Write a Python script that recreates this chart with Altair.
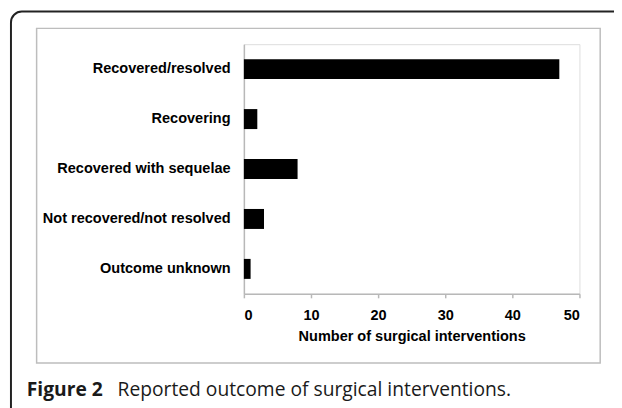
import altair as alt
import pandas as pd

categories = [
    "Recovered/resolved",
    "Recovering",
    "Recovered with sequelae",
    "Not recovered/not resolved",
    "Outcome unknown",
]
counts = [47, 2, 8, 3, 1]
x_ticks = [0, 10, 20, 30, 40, 50]
x_title = "Number of surgical interventions"
caption_bold = "Figure 2"
caption_rest = "Reported outcome of surgical interventions."

df = pd.DataFrame({"outcome": categories, "count": counts})

W, H = 340, 253
PAD_L, PAD_T = 239, 34
AX_FONT = "Liberation Sans, Arial, sans-serif"
AX_SIZE = 14.7
CAP_FONT = "Open Sans, Noto Sans, sans-serif"
CAP_SIZE = 19.5

bars = alt.Chart(df).mark_bar(color="black").encode(
    x=alt.X(
        "count:Q",
        scale=alt.Scale(domain=[0, 50], nice=False),
        axis=alt.Axis(
            values=x_ticks,
            title=x_title,
            grid=False,
            domainColor="#b8b8b8",
            domainWidth=1.5,
            tickColor="#b8b8b8",
            tickWidth=1.5,
            tickSize=4,
            labelFont=AX_FONT,
            labelFontSize=AX_SIZE,
            labelFontWeight="bold",
            labelColor="black",
            labelPadding=10,
            titleFont=AX_FONT,
            titleFontSize=AX_SIZE,
            titleFontWeight="bold",
            titleColor="black",
            titlePadding=7,
        ),
    ),
    y=alt.Y(
        "outcome:N",
        sort=categories,
        scale=alt.Scale(paddingInner=0.6, paddingOuter=0.3),
        axis=alt.Axis(
            title=None,
            ticks=False,
            domainColor="#b8b8b8",
            domainWidth=1.5,
            labelFont=AX_FONT,
            labelFontSize=AX_SIZE,
            labelFontWeight="bold",
            labelColor="black",
            labelPadding=14,
            labelLimit=0,
        ),
    ),
)

frame_df = pd.DataFrame({"k": [0]})

outer = alt.Chart(frame_df).mark_rect(
    fill=None, stroke="#222222", strokeWidth=2, cornerRadius=11
).encode(
    x=alt.value(-236), x2=alt.value(420), y=alt.value(-33), y2=alt.value(420)
)

inner = alt.Chart(frame_df).mark_rect(
    fill=None, stroke="#bdbdbd", strokeWidth=1.5
).encode(
    x=alt.value(-210), x2=alt.value(361), y=alt.value(-16), y2=alt.value(323)
)

cap1 = alt.Chart(frame_df).mark_text(
    text=caption_bold, font=CAP_FONT, fontSize=CAP_SIZE, fontWeight="bold",
    align="left", baseline="alphabetic", color="#1a1a1a"
).encode(x=alt.value(-220), y=alt.value(356))

cap2 = alt.Chart(frame_df).mark_text(
    text=caption_rest, font=CAP_FONT, fontSize=CAP_SIZE, fontWeight="normal",
    align="left", baseline="alphabetic", color="#1a1a1a"
).encode(x=alt.value(-128), y=alt.value(356))

chart = alt.layer(inner, outer, bars, cap1, cap2).properties(
    width=W,
    height=H,
    autosize=alt.AutoSizeParams(type="none"),
    padding={"left": PAD_L, "top": PAD_T, "right": 614 - PAD_L - W, "bottom": 400 - PAD_T - H},
).configure_view(stroke=None).configure(background="white")

chart.save("out.html", embed_options={"renderer": "svg", "actions": False})
